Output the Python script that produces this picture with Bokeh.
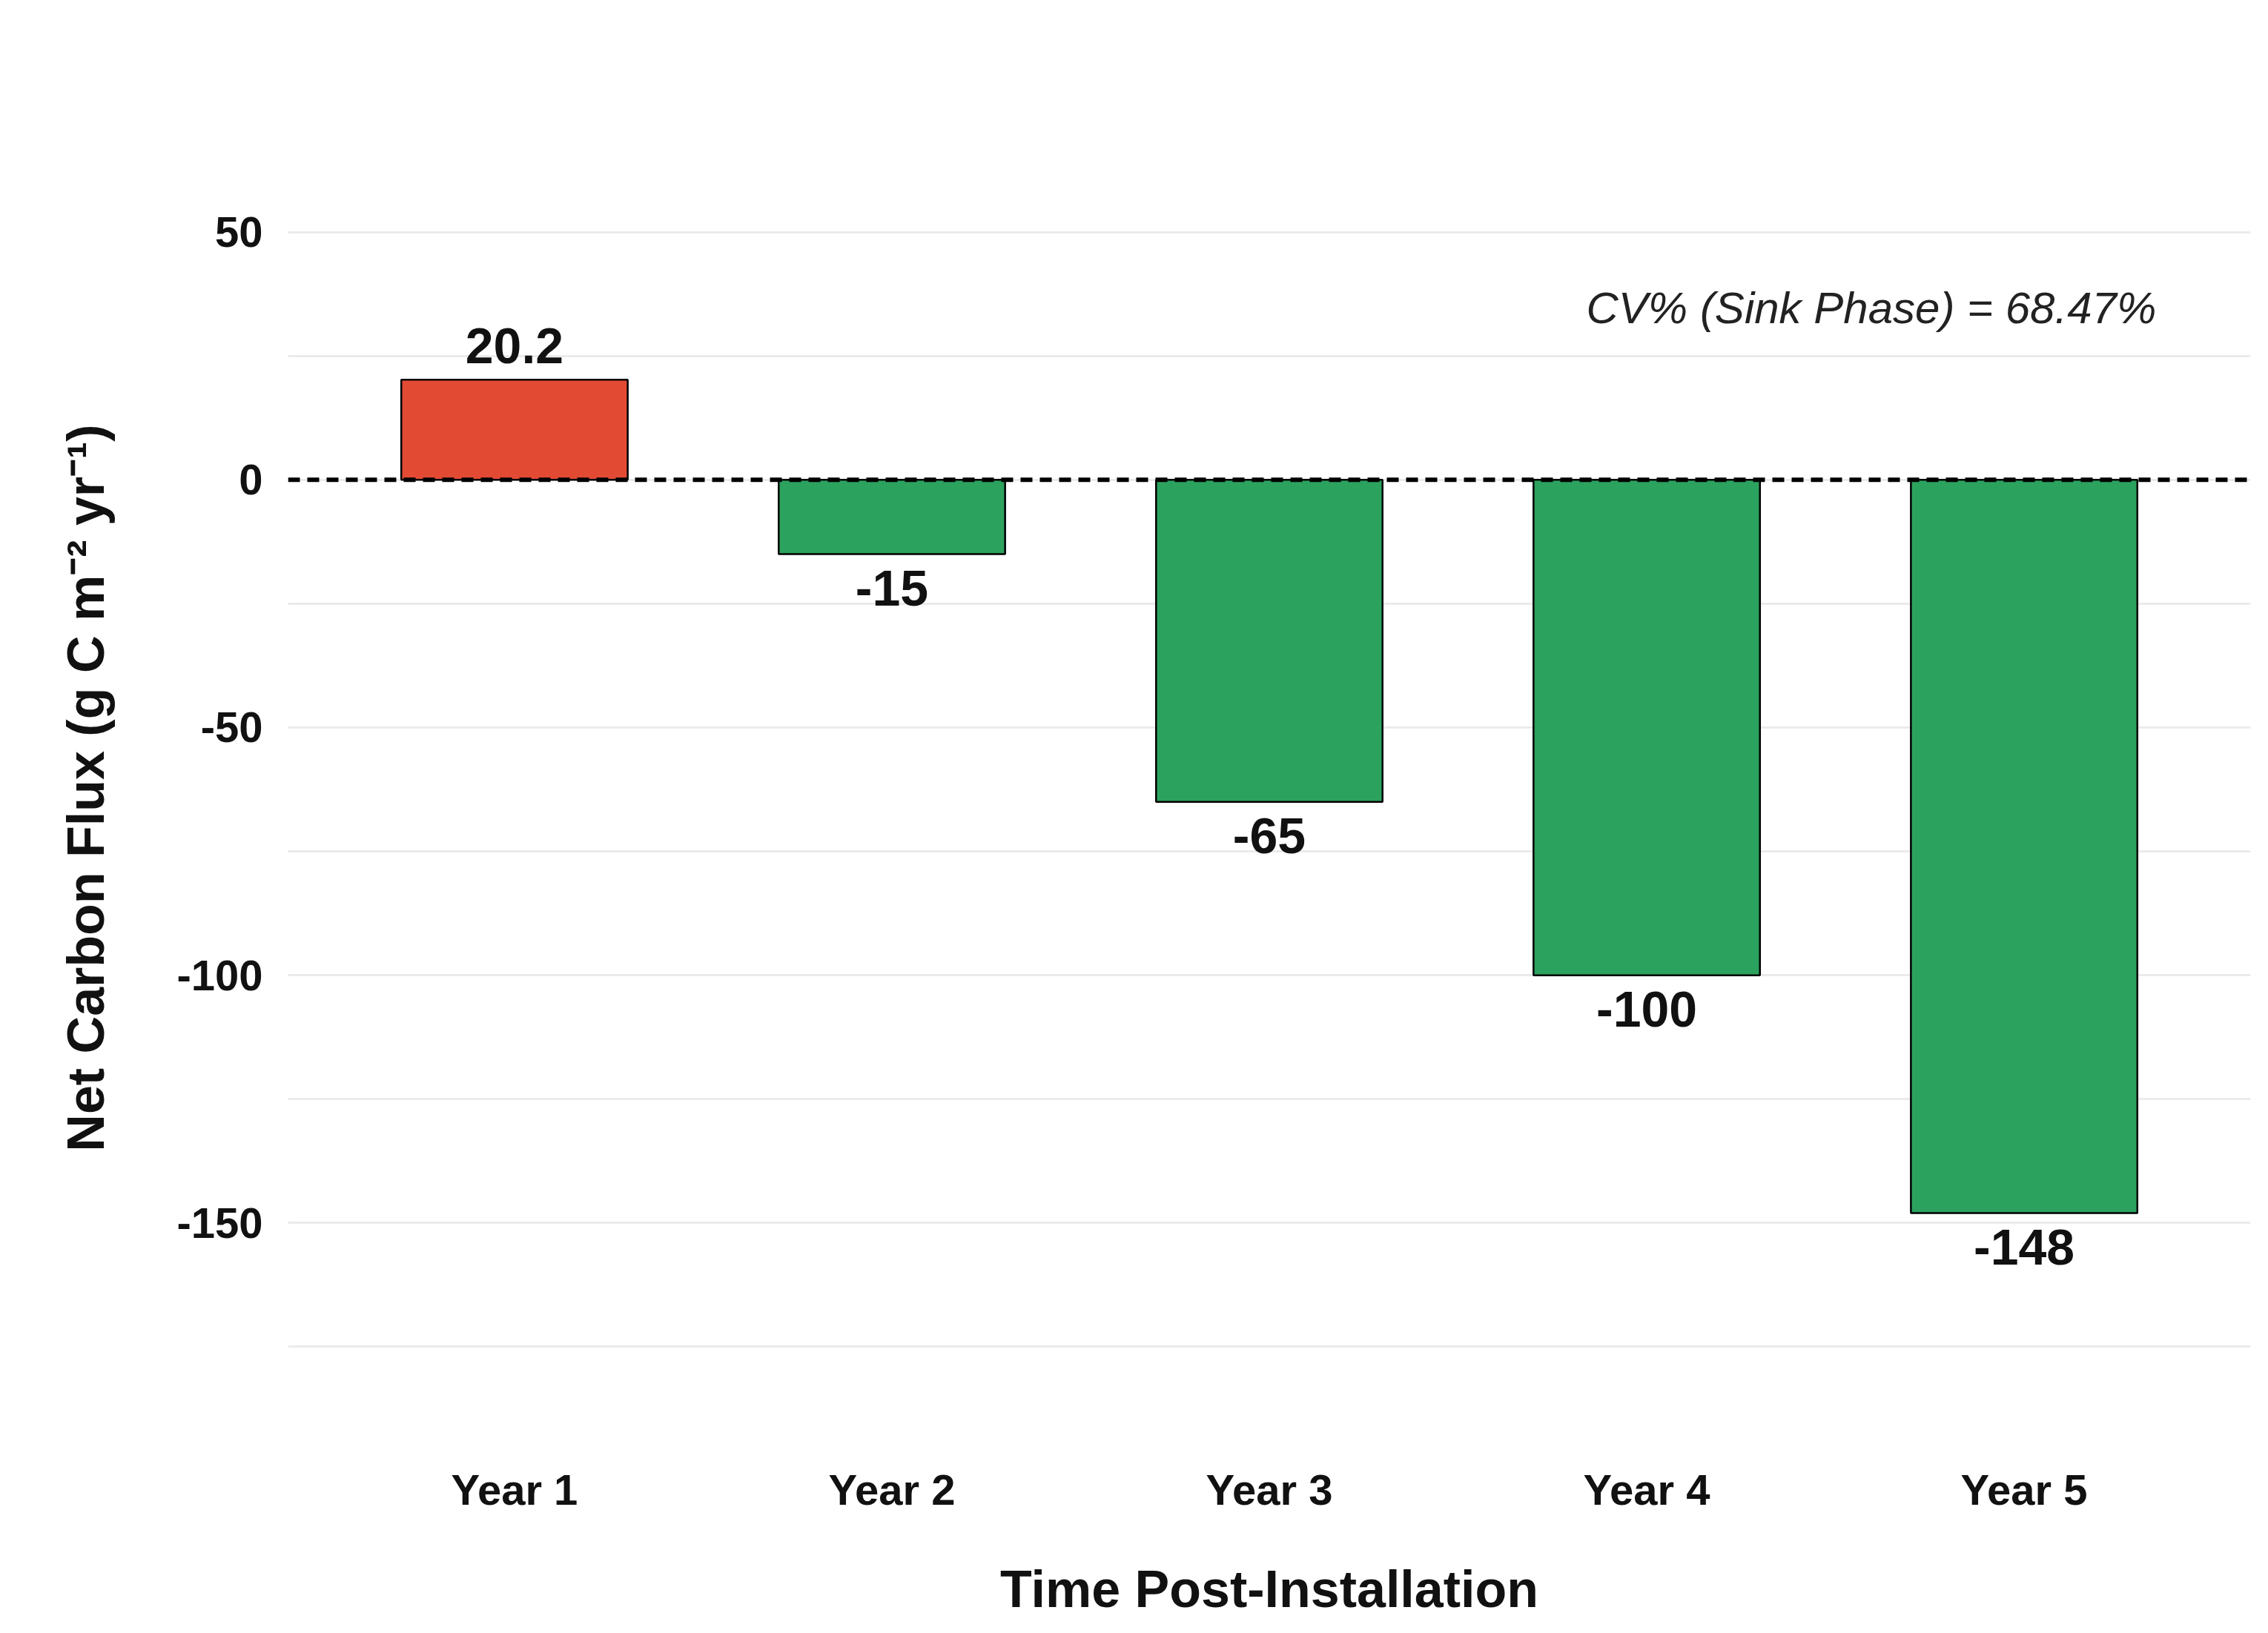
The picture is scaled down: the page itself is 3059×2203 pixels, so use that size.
from bokeh.plotting import figure
from bokeh.models import (ColumnDataSource, FixedTicker, Span, Label, Legend, LegendItem)
from bokeh.core.properties import value
from bokeh.embed import file_html
from bokeh.resources import INLINE

years = ["Year 1", "Year 2", "Year 3", "Year 4", "Year 5"]
flux = [20.2, -15, -65, -100, -148]
labels = ["20.2", "-15", "-65", "-100", "-148"]
y_ticks = [50, 0, -50, -100, -150]
cv_text = "CV% (Sink Phase) = 68.47%"

GREEN = "#2ca25f"
RED = "#e34a33"
FONT = "Liberation Sans"

xs = list(range(1, len(years) + 1))

p = figure(width=3040, height=2185, x_range=(0.40, 5.60), y_range=(-186, 61.6),
           output_backend="svg", toolbar_location=None,
           min_border_left=388, min_border_right=5, min_border_top=235, min_border_bottom=275)
p.outline_line_color = None
p.background_fill_color = "white"

src_pos = ColumnDataSource(dict(x=[x for x, v in zip(xs, flux) if v > 0],
                                top=[v for v in flux if v > 0],
                                lab=[l for l, v in zip(labels, flux) if v > 0]))
src_neg = ColumnDataSource(dict(x=[x for x, v in zip(xs, flux) if v <= 0],
                                top=[v for v in flux if v <= 0],
                                lab=[l for l, v in zip(labels, flux) if v <= 0]))

r_neg = p.vbar(x="x", top="top", bottom=0, width=0.6, source=src_neg,
               fill_color=GREEN, line_color="black", line_width=2.5)
r_pos = p.vbar(x="x", top="top", bottom=0, width=0.6, source=src_pos,
               fill_color=RED, line_color="black", line_width=2.5)

p.add_layout(Span(location=0, dimension="width", line_color="black",
                  line_width=6, line_dash="16 10"))

p.text(x="x", y="top", text="lab", source=src_pos, text_align="center",
       text_baseline="bottom", y_offset=-22, text_font=value(FONT),
       text_font_style="bold", text_font_size="68px", text_color="#111111")
p.text(x="x", y="top", text="lab", source=src_neg, text_align="center",
       text_baseline="top", y_offset=22, text_font=value(FONT),
       text_font_style="bold", text_font_size="68px", text_color="#111111")

p.add_layout(Label(x=5.35, y=34.7, text=cv_text, text_align="right",
                   text_baseline="middle", text_font=FONT, text_font_style="italic",
                   text_font_size="60px", text_color="#222222"))

# axes
p.xaxis.ticker = FixedTicker(ticks=xs)
p.xaxis.major_label_overrides = {x: y for x, y in zip(xs, years)}
p.yaxis.ticker = FixedTicker(ticks=y_ticks, minor_ticks=[25, -25, -75, -125, -175])
p.yaxis.major_label_overrides = {t: str(t) for t in y_ticks}
for ax in (p.xaxis, p.yaxis):
    ax.axis_line_color = None
    ax.major_tick_line_color = None
    ax.minor_tick_line_color = None
    ax.major_label_text_font = FONT
    ax.major_label_text_font_style = "bold"
    ax.major_label_text_font_size = "58px"
    ax.major_label_text_color = "#111111"
    ax.axis_label_text_font = FONT
    ax.axis_label_text_font_style = "bold"
    ax.axis_label_text_font_size = "70px"
    ax.axis_label_text_color = "#111111"
p.xaxis.major_label_standoff = 80
p.xaxis.axis_label = "Time Post-Installation"
p.xaxis.axis_label_standoff = 60
p.yaxis.major_label_standoff = 28
p.yaxis.axis_label = "Net Carbon Flux (g C m\u207b\u00b2 yr\u207b\u00b9)"
p.yaxis.axis_label_standoff = 80

p.xgrid.grid_line_color = None
p.ygrid.grid_line_color = "#e8e8e8"
p.ygrid.grid_line_width = 2.5
p.ygrid.minor_grid_line_color = "#e8e8e8"
p.ygrid.minor_grid_line_width = 2.5

legend = Legend(items=[LegendItem(label="Carbon Sink (Sequestration)", renderers=[r_neg]),
                       LegendItem(label="Carbon Source (Emissions)", renderers=[r_pos])],
                orientation="horizontal", location=(670, 1877),
                label_text_font=FONT, label_text_font_size="62px",
                label_text_color="#222222", glyph_width=90, glyph_height=88,
                label_height=88, spacing=70, label_standoff=40, border_line_color=None,
                background_fill_alpha=0, margin=0, padding=0)
p.add_layout(legend, "center")

p.add_layout(Label(x=78, y=1756, x_units="screen", y_units="screen",
                   text="System Status:", text_baseline="middle",
                   text_font=FONT, text_font_style="bold", text_font_size="68px",
                   text_color="#111111"))

open("out.html", "w").write(file_html(p, INLINE))
